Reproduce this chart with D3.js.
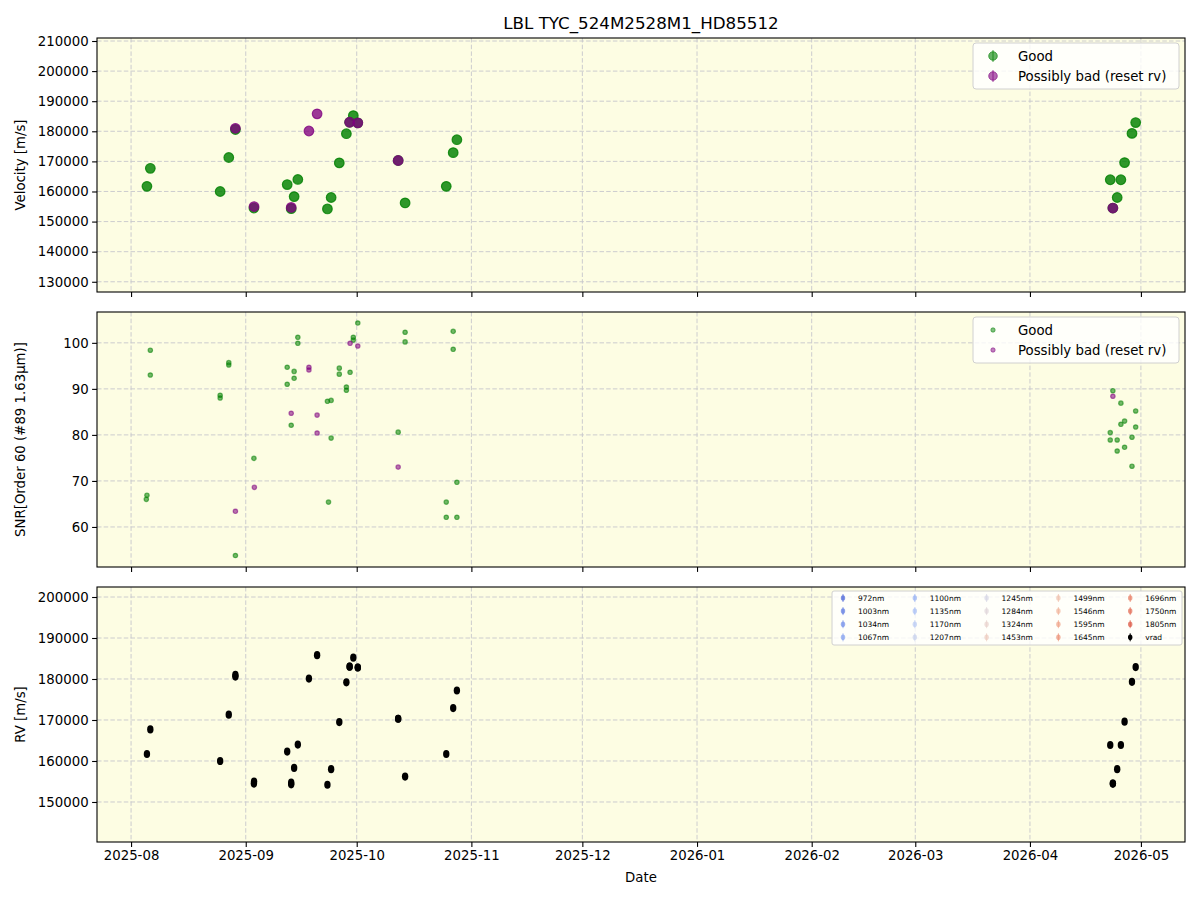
<!DOCTYPE html>
<html>
<head>
<meta charset="utf-8">
<script src="https://cdn.jsdelivr.net/npm/d3@7"></script>
<style>
  body { margin: 0; background: #fff; }
  text { font-family: "DejaVu Sans", sans-serif; }
</style>
</head>
<body>
<div id="chart-area"></div>
<script>

// velocity panel, "Good"
var velGoodDates = ["2025-08-05 07:00","2025-08-06 05:00","2025-08-25 02:00","2025-08-27 10:00","2025-08-29 05:00",
    "2025-09-03 05:00","2025-09-12 05:00","2025-09-13 07:00","2025-09-14 02:00","2025-09-15 02:00",
    "2025-09-23 02:00","2025-09-24 02:00","2025-09-26 07:00","2025-09-28 05:00","2025-09-29 02:00",
    "2025-09-30 02:00","2025-10-01 07:00","2025-10-12 05:00","2025-10-14 02:00","2025-10-25 05:00",
    "2025-10-27 02:00","2025-10-28 02:00","2026-04-22 17:00","2026-04-23 10:00","2026-04-24 14:00",
    "2026-04-25 14:00","2026-04-26 14:00","2026-04-28 14:00","2026-04-29 14:00"];
var velGood = [161700,167700,160000,171300,180600,
    154500,162300,154300,158300,164000,
    154200,158000,169500,179200,183000,
    185200,182800,170300,156200,161700,
    172900,177200,163900,154500,158000,
    163900,169600,179300,182900];

// velocity panel, "Possibly bad (reset rv)"
var velBadDates = ["2025-08-29 05:00","2025-09-03 06:00","2025-09-13 07:00","2025-09-18 02:00","2025-09-20 07:00",
    "2025-09-29 02:00","2025-10-01 07:00","2025-10-12 05:00","2026-04-23 10:00"];
var velBad = [181000,155000,154700,180100,185800,183000,182800,170300,154500];

// SNR panel
var snrGoodDates = ["2025-08-05 03:00","2025-08-05 07:00","2025-08-06 05:00","2025-08-06 05:00","2025-08-25 02:00",
    "2025-08-25 02:00","2025-08-27 10:00","2025-08-27 10:00","2025-08-29 05:00","2025-09-03 05:00",
    "2025-09-12 05:00","2025-09-12 05:00","2025-09-13 07:00","2025-09-14 02:00","2025-09-14 02:00",
    "2025-09-15 02:00","2025-09-15 02:00","2025-09-23 02:00","2025-09-23 09:00","2025-09-24 02:00",
    "2025-09-24 02:00","2025-09-26 07:00","2025-09-26 07:00","2025-09-28 05:00","2025-09-28 05:00",
    "2025-09-29 05:00","2025-09-30 02:00","2025-09-30 02:00","2025-10-01 07:00","2025-10-12 05:00",
    "2025-10-14 02:00","2025-10-14 02:00","2025-10-25 05:00","2025-10-25 05:00","2025-10-27 02:00",
    "2025-10-27 02:00","2025-10-28 02:00","2025-10-28 02:00","2026-04-22 17:00","2026-04-22 17:00",
    "2026-04-23 10:00","2026-04-24 14:00","2026-04-24 14:00","2026-04-25 14:00","2026-04-25 14:00",
    "2026-04-26 14:00","2026-04-26 14:00","2026-04-28 14:00","2026-04-28 14:00","2026-04-29 14:00",
    "2026-04-29 14:00"];
var snrGood = [66.0,66.9,98.4,93.0,88.6,
    88.0,95.7,95.2,53.8,74.9,
    94.7,91.0,82.1,93.8,92.3,
    101.2,99.9,87.3,65.4,87.5,
    79.3,94.5,93.2,90.4,89.7,
    93.6,101.2,100.6,104.3,80.6,
    102.3,100.2,65.4,62.1,102.5,
    98.6,69.7,62.1,80.5,78.9,
    89.6,78.9,76.5,86.9,82.3,
    83.0,77.3,79.5,73.2,85.2,
    81.7];
var snrBadDates = ["2025-08-29 05:00","2025-09-03 08:00","2025-09-13 07:00","2025-09-18 02:00","2025-09-18 02:00",
    "2025-09-20 07:00","2025-09-20 07:00","2025-09-29 05:00","2025-10-01 07:00","2025-10-12 05:00",
    "2026-04-23 10:00"];
var snrBad = [63.4,68.6,84.7,94.7,94.1,84.3,80.4,99.9,99.3,73.0,88.4];

// RV panel legend
var wavelengths = ["972nm","1003nm","1034nm","1067nm","1100nm","1135nm","1170nm","1207nm","1245nm","1284nm",
    "1324nm","1453nm","1499nm","1546nm","1595nm","1645nm","1696nm","1750nm","1805nm"];

var yTicksVel = [130000,140000,150000,160000,170000,180000,190000,200000,210000];
var yTicksSnr = [60,70,80,90,100];
var yTicksRv = [150000,160000,170000,180000,190000,200000];

var parse = d3.utcParse("%Y-%m-%d %H:%M");

var W = 1200, H = 900;
var left = 97, right = 1185;
var bg = "#fdfde3";

var svg = d3.select("#chart-area")
    .append("svg")
        .attr("width", W)
        .attr("height", H);

svg.append("text")
    .attr("x", 641).attr("y", 29)
    .attr("text-anchor", "middle")
    .attr("font-size", 16.7)
    .text("LBL TYC_524M2528M1_HD85512");

var x = d3.scaleUtc()
    .domain([parse("2025-07-22 19:00"), parse("2026-05-12 22:00")])
    .range([left, right]);

var panels = [
    {top: 38, bottom: 292, domain: [126600, 211000], ticks: yTicksVel, label: "Velocity [m/s]"},
    {top: 312, bottom: 567, domain: [51.3, 106.7], ticks: yTicksSnr, label: "SNR[Order 60 (#89 1.63\u03bcm)]"},
    {top: 587, bottom: 842, domain: [140240, 202440], ticks: yTicksRv, label: "RV [m/s]"}
];

var monthTicks = d3.utcMonth.range(parse("2025-08-01 00:00"), parse("2026-05-02 00:00"));

panels.forEach(function(p, i) {
    p.y = d3.scaleLinear().domain(p.domain).range([p.bottom, p.top]);
    var g = svg.append("g");
    p.g = g;

    g.append("rect")
        .attr("x", left).attr("y", p.top)
        .attr("width", right - left).attr("height", p.bottom - p.top)
        .attr("fill", bg);

    // grid
    g.selectAll(".vg").data(monthTicks).enter()
        .append("line")
            .attr("x1", d => x(d)).attr("x2", d => x(d))
            .attr("y1", p.top).attr("y2", p.bottom)
            .attr("stroke", "#c6c6cc").attr("stroke-width", 0.9)
            .attr("stroke-dasharray", "4.5,2.2");
    g.selectAll(".hg").data(p.ticks).enter()
        .append("line")
            .attr("x1", left).attr("x2", right)
            .attr("y1", d => p.y(d)).attr("y2", d => p.y(d))
            .attr("stroke", "#c6c6cc").attr("stroke-width", 0.9)
            .attr("stroke-dasharray", "4.5,2.2");

    var yAxis = d3.axisLeft(p.y).tickValues(p.ticks).tickSize(4.9).tickPadding(3.5).tickFormat(d3.format("d"));
    var ya = g.append("g").attr("transform", "translate(" + left + ",0)").call(yAxis);
    ya.select(".domain").remove();
    ya.selectAll("text").attr("font-size", 13.3).attr("fill", "#000").attr("font-family", "DejaVu Sans");
    ya.selectAll("line").attr("stroke-width", 1.1);

    var xAxis = d3.axisBottom(x).tickValues(monthTicks).tickSize(4.9).tickPadding(3.5)
        .tickFormat(i === 2 ? d3.utcFormat("%Y-%m") : "");
    var xa = g.append("g").attr("transform", "translate(0," + p.bottom + ")").call(xAxis);
    xa.select(".domain").remove();
    xa.selectAll("text").attr("font-size", 13.3).attr("fill", "#000").attr("font-family", "DejaVu Sans");
    xa.selectAll("line").attr("stroke-width", 1.1);

    g.append("text")
        .attr("transform", "translate(25," + ((p.top + p.bottom) / 2) + ") rotate(-90)")
        .attr("text-anchor", "middle")
        .attr("font-size", 13.3)
        .text(p.label);
});

function drawDots(p, dates, vals, color, r, op) {
    p.g.selectAll(null).data(dates).enter()
        .append("circle")
            .attr("cx", d => x(parse(d)))
            .attr("cy", (d, i) => p.y(vals[i]))
            .attr("r", r)
            .attr("fill", color).attr("fill-opacity", op)
            .attr("stroke", color).attr("stroke-opacity", op).attr("stroke-width", 1.2);
}

// top panel
drawDots(panels[0], velGoodDates, velGood, "green", 4.8, 0.82);
drawDots(panels[0], velBadDates, velBad, "purple", 4.8, 0.78);

// middle panel
drawDots(panels[1], snrGoodDates, snrGood, "green", 2.2, 0.55);
drawDots(panels[1], snrBadDates, snrBad, "purple", 2.2, 0.55);

// bottom panel: vrad (all velocity points)
var vradDates = velGoodDates.concat(velBadDates);
var vrad = velGood.concat(velBad);
panels[2].g.selectAll(null).data(vradDates).enter()
    .append("ellipse")
        .attr("cx", d => x(parse(d)))
        .attr("cy", (d, i) => panels[2].y(vrad[i]))
        .attr("rx", 3.2).attr("ry", 4.1)
        .attr("fill", "#000");

// frames
panels.forEach(function(p) {
    p.g.append("rect")
        .attr("x", left).attr("y", p.top)
        .attr("width", right - left).attr("height", p.bottom - p.top)
        .attr("fill", "none").attr("stroke", "#000").attr("stroke-width", 1.1);
});

// legends for top two panels
[0, 1].forEach(function(k) {
    var p = panels[k];
    var lg = p.g.append("g").attr("transform", "translate(973," + (p.top + 5) + ")");
    lg.append("rect")
        .attr("width", 206).attr("height", 46).attr("rx", 3)
        .attr("fill", "#fff").attr("fill-opacity", 0.8)
        .attr("stroke", "#d0d0d0");
    var items = [["Good", "green"], ["Possibly bad (reset rv)", "purple"]];
    items.forEach(function(it, j) {
        var cy = 13 + j * 20;
        if (k === 0) {
            lg.append("line").attr("x1", 20).attr("x2", 20).attr("y1", cy - 6).attr("y2", cy + 6)
                .attr("stroke", it[1]).attr("stroke-opacity", 0.6).attr("stroke-width", 1.2);
            lg.append("circle").attr("cx", 20).attr("cy", cy).attr("r", 4.3)
                .attr("fill", it[1]).attr("fill-opacity", 0.6)
                .attr("stroke", it[1]).attr("stroke-opacity", 0.6);
        } else {
            lg.append("circle").attr("cx", 20).attr("cy", cy).attr("r", 2.2)
                .attr("fill", it[1]).attr("fill-opacity", 0.5)
                .attr("stroke", it[1]).attr("stroke-opacity", 0.5);
        }
        lg.append("text").attr("x", 45).attr("y", cy + 4.6)
            .attr("font-size", 13.3).text(it[0]);
    });
});

// bottom legend
var coolwarm = d3.interpolateRgbBasis(["#4a64d8", "#8fb0fa", "#d0dcf2", "#f2d4c4", "#f2a080", "#dc5440"]);
var leg = panels[2].g.append("g").attr("transform", "translate(832,591)");
leg.append("rect")
    .attr("width", 350).attr("height", 54).attr("rx", 2)
    .attr("fill", "#fff").attr("fill-opacity", 0.8)
    .attr("stroke", "#d0d0d0");
var legItems = wavelengths.map((w, i) => ({name: w, color: coolwarm(i / (wavelengths.length - 1)), op: 0.7}));
legItems.push({name: "vrad", color: "#000", op: 1});
legItems.forEach(function(d, i) {
    var col = Math.floor(i / 4), row = i % 4;
    var mx = 11 + col * 71.8, my = 7 + row * 13.1;
    leg.append("line").attr("x1", mx).attr("x2", mx).attr("y1", my - 4).attr("y2", my + 4)
        .attr("stroke", d.color).attr("stroke-opacity", d.op).attr("stroke-width", 1);
    leg.append("ellipse").attr("cx", mx).attr("cy", my).attr("rx", 2.2).attr("ry", 2.8)
        .attr("fill", d.color).attr("fill-opacity", d.op);
    leg.append("text").attr("x", mx + 15).attr("y", my + 2.7)
        .attr("font-size", 7.5).text(d.name);
});

svg.append("text")
    .attr("x", 641).attr("y", 882)
    .attr("text-anchor", "middle")
    .attr("font-size", 13.3)
    .text("Date");

</script>
</body>
</html>
